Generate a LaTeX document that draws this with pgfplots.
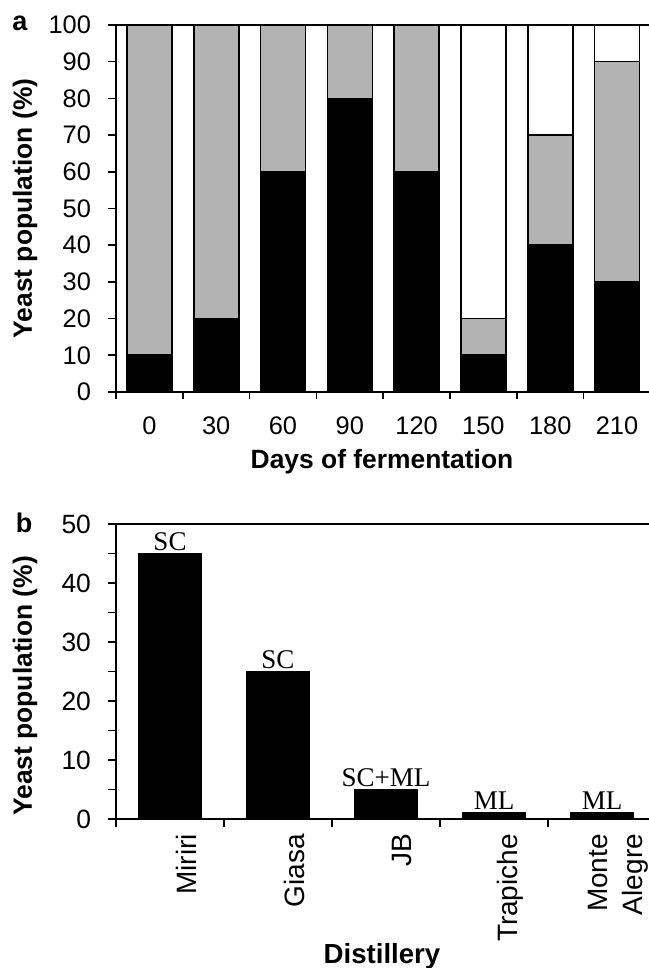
\documentclass[border=0pt]{standalone}
\usepackage{pgfplots}
\pgfplotsset{compat=1.18}
\usepackage{fontspec}
\setmainfont{Liberation Sans}
\newfontfamily\tnr{Liberation Serif}
\definecolor{grayfill}{RGB}{179,179,179}
\begin{document}
\begin{tikzpicture}
% ---------- panel a ----------
\begin{axis}[
  at={(0,0)}, anchor=south west,
  scale only axis, width=270pt, height=183.5pt,
  xmin=-0.5, xmax=7.584, ymin=0, ymax=100,
  ybar stacked, bar width=22.5pt,
  axis line style={line width=0.9pt},
  ytick={0,10,...,100}, ytick pos=left,
  xtick={0,...,7}, xticklabels={0,30,60,90,120,150,180,210},
  minor xtick={-0.5,0.5,...,7.5}, xtick pos=left,
  major x tick style={draw=none},
  tick align=outside, major tick length=4pt, minor tick length=3.5pt,
  tick style={line width=0.8pt, black},
  /pgf/number format/assume math mode=true,
  ticklabel style={font=\fontsize{12.7}{14}\selectfont},
  xticklabel style={yshift=-5pt},
  yticklabel style={xshift=-5pt},
  xlabel={\bfseries Days of fermentation},
  ylabel={\bfseries Yeast population (\%)},
  label style={font=\fontsize{13.2}{15}\selectfont},
  xlabel style={at={(axis description cs:0.4926,-0.1907)}, anchor=center},
  ylabel style={at={(axis description cs:-0.1685,0.5)}, anchor=center},
]
\addplot[fill=black, draw=black, line width=0.8pt] coordinates {(0,10) (1,20) (2,60) (3,80) (4,60) (5,10) (6,40) (7,30)};
\addplot[fill=grayfill, draw=black, line width=0.8pt] coordinates {(0,90) (1,80) (2,40) (3,20) (4,40) (5,10) (6,30) (7,60)};
\addplot[fill=white, draw=black, line width=0.8pt] coordinates {(0,0) (1,0) (2,0) (3,0) (4,0) (5,80) (6,30) (7,10)};
\end{axis}
% ---------- panel b ----------
\begin{axis}[
  at={(0,-213.5pt)}, anchor=south west,
  scale only axis, width=270pt, height=147.5pt,
  xmin=-0.5, xmax=4.5, ymin=0, ymax=50,
  ybar, bar width=31pt,
  axis line style={line width=0.9pt},
  ytick={0,10,...,50}, minor ytick={5,15,...,45}, ytick pos=left,
  xtick={0,...,4}, xticklabels={Miriri,Giasa,JB,Trapiche,Monte\\Alegre},
  minor xtick={-0.5,0.5,...,4.5}, xtick pos=left,
  major x tick style={draw=none},
  tick align=outside, major tick length=4pt, minor tick length=4pt,
  tick style={line width=0.8pt, black},
  /pgf/number format/assume math mode=true,
  ticklabel style={font=\fontsize{13.2}{17.5}\selectfont},
  xticklabel style={font=\fontsize{14}{17.5}\selectfont, rotate=90, anchor=east, align=right, yshift=-8pt},
  yticklabel style={xshift=-5pt},
  xlabel={\bfseries Distillery},
  ylabel={\bfseries Yeast population (\%)},
  label style={font=\fontsize{13.2}{15}\selectfont},
  xlabel style={font=\fontsize{13.8}{15}\selectfont, at={(axis description cs:0.4926,-0.465)}, anchor=center},
  ylabel style={at={(axis description cs:-0.1685,0.451)}, anchor=center},
  nodes near coords, point meta=explicit symbolic,
  every node near coord/.style={font=\tnr\fontsize{13.5}{15}\selectfont, anchor=south, inner sep=1.2pt, black},
]
\addplot[fill=black, draw=black, line width=0.8pt] coordinates {(0,45)[SC] (1,25)[SC] (2,5)[SC+ML] (3,1)[ML] (4,1)[ML]};
\end{axis}
\node[font=\bfseries\fontsize{13.5}{15}\selectfont] at (-48pt,184.5pt) {a};
\node[font=\bfseries\fontsize{13.5}{15}\selectfont] at (-46pt,-65.5pt) {b};
\pgfresetboundingbox
\useasboundingbox (-58pt,-288pt) rectangle (266pt,196pt);
\end{tikzpicture}
\end{document}
